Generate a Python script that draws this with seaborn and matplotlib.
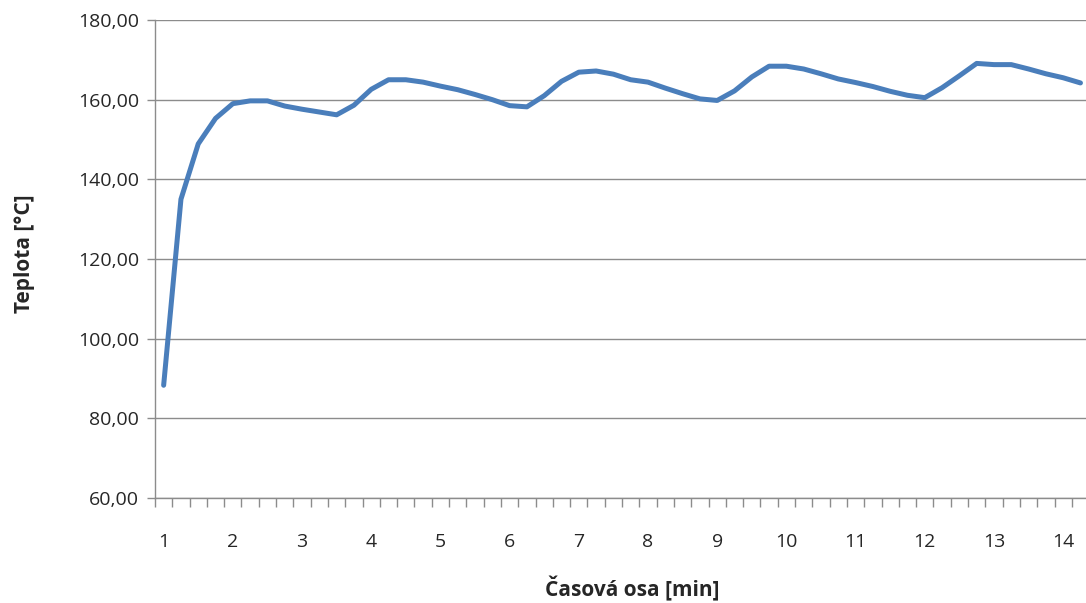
import matplotlib
matplotlib.use("Agg")
import matplotlib.pyplot as plt
import seaborn as sns
import numpy as np
from matplotlib.ticker import FuncFormatter

# ---- data ----
temperature = [
    88.3, 135.0, 148.9, 155.3, 159.0, 159.7, 159.7, 158.4, 157.6, 156.9,
    156.2, 158.6, 162.6, 165.0, 165.0, 164.4, 163.4, 162.5, 161.3, 160.0,
    158.5, 158.2, 161.0, 164.6, 166.9, 167.2, 166.4, 165.0, 164.4, 162.9,
    161.5, 160.2, 159.8, 162.2, 165.7, 168.4, 168.4, 167.7, 166.5, 165.2,
    164.3, 163.3, 162.1, 161.1, 160.5, 163.0, 166.0, 169.1, 168.8, 168.8,
    167.7, 166.5, 165.5, 164.2,
]
# time axis: samples every quarter minute starting at 1 min
time_min = [1 + 0.25 * i for i in range(len(temperature))]
x_tick_values = list(range(1, 15))
x_tick_labels = [str(v) for v in x_tick_values]
y_tick_values = [60, 80, 100, 120, 140, 160, 180]

x_label = "Časová osa [min]"
y_label = "Teplota [°C]"

# ---- style ----
sns.set_theme(style="white")
plt.rcParams["font.family"] = ["Open Sans", "DejaVu Sans"]

LINE = "#4A7EBB"
GRID = "#8C8C8C"
TEXT = "#262626"

fig = plt.figure(figsize=(10.86, 6.03), dpi=100)
W, H = 1086, 603
ax = fig.add_axes([155 / W, 1 - 498 / H, (W - 155) / W, (498 - 20) / H])

sns.lineplot(x=time_min, y=temperature, ax=ax, color=LINE, linewidth=3.6,
             solid_joinstyle="round", solid_capstyle="round")

ax.set_xlim(0.875, 14.33)
ax.set_ylim(60, 180)

ax.set_yticks(y_tick_values)
ax.yaxis.set_major_formatter(FuncFormatter(lambda v, p: f"{v:.2f}".replace(".", ",")))
ax.set_xticks(x_tick_values)
ax.set_xticklabels(x_tick_labels)
ax.set_xticks(np.arange(0.875, 14.34, 0.25), minor=True)

ax.tick_params(axis="x", which="major", length=0, pad=25, labelsize=14,
               labelcolor=TEXT, bottom=True)
ax.tick_params(axis="x", which="minor", length=6.5, width=1, color=GRID,
               direction="out", bottom=True)
ax.tick_params(axis="y", which="major", length=5.5, width=1, color=GRID,
               direction="out", pad=6, labelsize=14, labelcolor=TEXT, left=True)

ax.grid(axis="y", color=GRID, linewidth=1)
ax.set_axisbelow(True)
for side in ["top", "right"]:
    ax.spines[side].set_visible(False)
for side in ["left", "bottom"]:
    ax.spines[side].set_color(GRID)
    ax.spines[side].set_linewidth(1)

ax.set_xlabel(x_label, fontsize=15, fontweight="bold", color=TEXT)
ax.set_ylabel(y_label, fontsize=15, fontweight="bold", color=TEXT)
ax.xaxis.set_label_coords((632 - 155) / 931, (498 - 576) / 478)
ax.yaxis.set_label_coords((35 - 155) / 931, (498 - 254) / 478)

fig.savefig("out.png", dpi=100)
